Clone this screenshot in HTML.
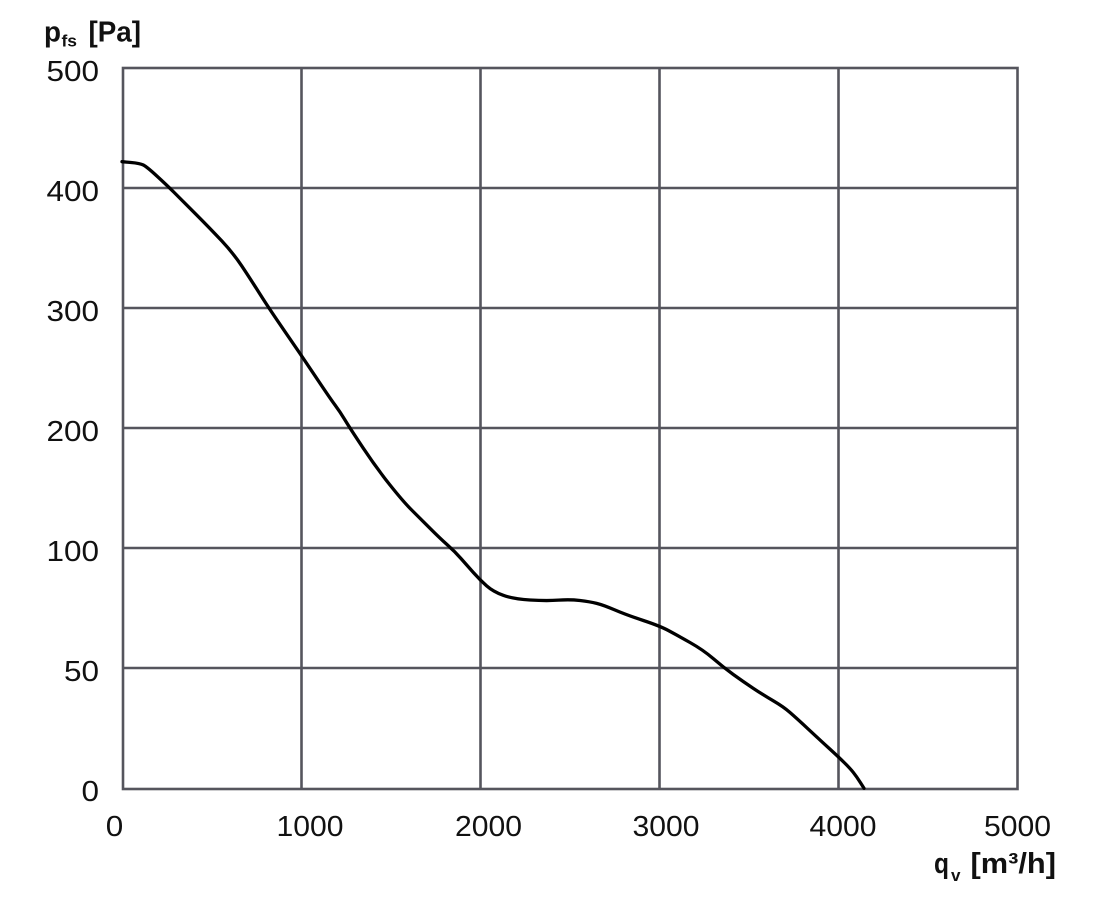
<!DOCTYPE html>
<html><head><meta charset="utf-8"><style>
html,body{margin:0;padding:0;background:#fff;}
svg{display:block;}
text{font-family:"Liberation Sans",Arial,sans-serif;fill:#111;}
</style></head><body>
<svg width="1100" height="899" viewBox="0 0 1100 899" xmlns="http://www.w3.org/2000/svg">
<g stroke="#55555d" stroke-width="2.6" fill="none">
<line x1="301.5" y1="68" x2="301.5" y2="789"/>
<line x1="480.5" y1="68" x2="480.5" y2="789"/>
<line x1="659.5" y1="68" x2="659.5" y2="789"/>
<line x1="838.5" y1="68" x2="838.5" y2="789"/>
<line x1="123" y1="188" x2="1017" y2="188"/>
<line x1="123" y1="308" x2="1017" y2="308"/>
<line x1="123" y1="428" x2="1017" y2="428"/>
<line x1="123" y1="548" x2="1017" y2="548"/>
<line x1="123" y1="668" x2="1017" y2="668"/>
<rect x="123" y="68" width="894.5" height="721"/>
</g>
<path d="M122,161.7 L131,162.5 Q140,163.3 143.35,165 Q146.7,166.7 156.7,175.85 Q166.7,185 174.2,192.5 Q181.7,200 195.85,214.15 Q210,228.3 221.65,240.8 Q233.3,253.3 241.65,265.8 Q250,278.3 260,294.15 Q270,310 285,331.65 Q300,353.3 315,375.8 Q330,398.3 335,405 Q340,411.7 345,420 Q350,428.3 363.35,448.3 Q376.7,468.3 390,485 Q403.3,501.7 411.65,510 Q420,518.3 430,528.3 Q440,538.3 447.5,545 Q455,551.7 460.85,558.35 Q466.7,565 473.35,572.5 Q480,580 486.65,585.85 Q493.3,591.7 503.3,595.35 Q513.3,599 530,600 Q546.7,601 558.35,600.15 Q570,599.3 580,600.5 Q590,601.7 596.65,603.35 Q603.3,605 615,610 Q626.7,615 643.35,620.5 Q660,626 668.35,630.5 Q676.7,635 690,642.5 Q703.3,650 713.3,658.65 Q723.3,667.3 733.3,674.5 Q743.3,681.7 753.3,688.35 Q763.3,695 773.3,700.85 Q783.3,706.7 790,712.5 Q796.7,718.3 808.35,729.15 Q820,740 829.15,748.35 Q838.3,756.7 844.15,762.5 Q850,768.3 853.35,772.5 Q856.7,776.7 860.35,782.5 L864,788.3" fill="none" stroke="#000" stroke-width="3.3" stroke-linejoin="round" stroke-linecap="round"/>
<g font-size="28.5" text-anchor="end">
<text x="99" y="81" textLength="52.5" lengthAdjust="spacingAndGlyphs">500</text>
<text x="99" y="201" textLength="52.5" lengthAdjust="spacingAndGlyphs">400</text>
<text x="99" y="321" textLength="52.5" lengthAdjust="spacingAndGlyphs">300</text>
<text x="99" y="441" textLength="52.5" lengthAdjust="spacingAndGlyphs">200</text>
<text x="99" y="561" textLength="52.5" lengthAdjust="spacingAndGlyphs">100</text>
<text x="99" y="681" textLength="35" lengthAdjust="spacingAndGlyphs">50</text>
<text x="99" y="801" textLength="17.5" lengthAdjust="spacingAndGlyphs">0</text>
</g>
<g font-size="28.5" text-anchor="middle">
<text x="114.5" y="836" textLength="17.5" lengthAdjust="spacingAndGlyphs">0</text>
<text x="310" y="836" textLength="67" lengthAdjust="spacingAndGlyphs">1000</text>
<text x="488.5" y="836" textLength="67" lengthAdjust="spacingAndGlyphs">2000</text>
<text x="666" y="836" textLength="67" lengthAdjust="spacingAndGlyphs">3000</text>
<text x="843" y="836" textLength="67" lengthAdjust="spacingAndGlyphs">4000</text>
<text x="1017.5" y="836" textLength="67" lengthAdjust="spacingAndGlyphs">5000</text>
</g>
<g font-weight="bold">
<text x="44" y="41.5" font-size="29" textLength="17" lengthAdjust="spacingAndGlyphs">p</text>
<text x="61.5" y="46.5" font-size="17" textLength="15.5" lengthAdjust="spacingAndGlyphs">fs</text>
<text x="88.5" y="41.5" font-size="29" textLength="52.5" lengthAdjust="spacingAndGlyphs">[Pa]</text>
<text x="934" y="873" font-size="29" textLength="15" lengthAdjust="spacingAndGlyphs">q</text>
<text x="951" y="881" font-size="17" textLength="9.5" lengthAdjust="spacingAndGlyphs">v</text>
<text x="970.5" y="873" font-size="29" textLength="85.5" lengthAdjust="spacingAndGlyphs">[m³/h]</text>
</g>
</svg>
</body></html>
